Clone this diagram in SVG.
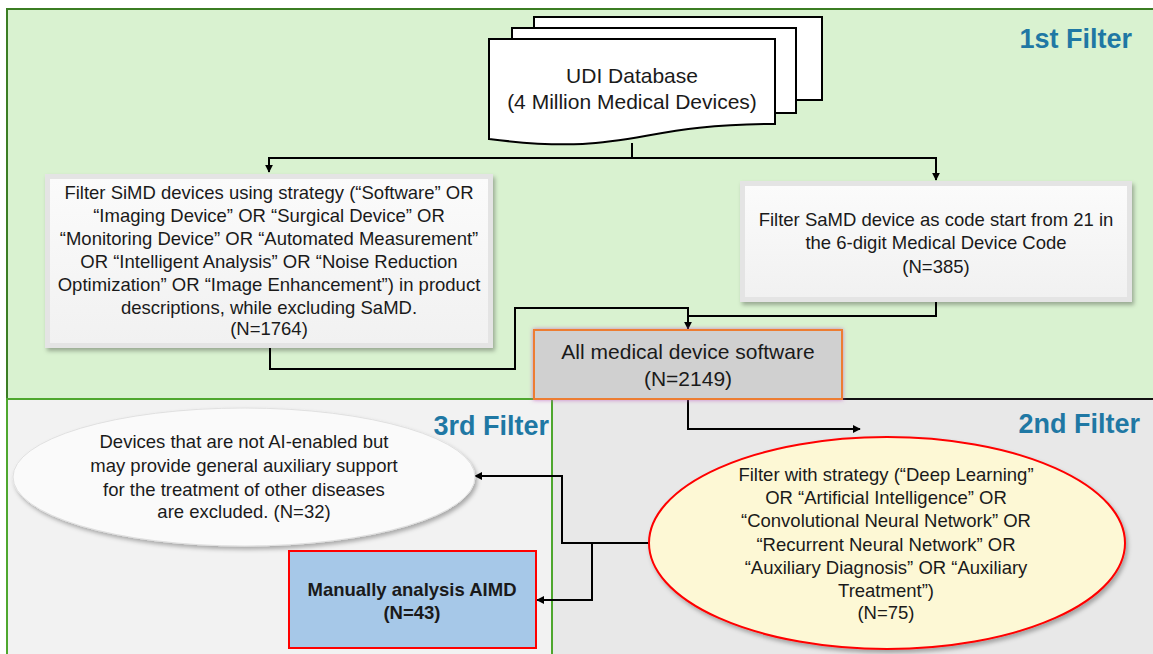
<svg xmlns="http://www.w3.org/2000/svg" width="1153" height="654" viewBox="0 0 1153 654">
<defs>
<style>
.t{font-family:"Liberation Sans",Arial,sans-serif;font-size:18.5px;fill:#1a1a1a;text-anchor:middle}
.l{font-size:21px}
.b{font-weight:bold}
.h{font-family:"Liberation Sans",Arial,sans-serif;font-size:27px;font-weight:bold;fill:#1f78a4;text-anchor:end}
.c{fill:none;stroke:#000;stroke-width:2}
.doc{fill:#fff;stroke:#000;stroke-width:2}
</style>
<marker id="ah" viewBox="0 0 10 10" refX="9" refY="5" markerWidth="8" markerHeight="8" markerUnits="userSpaceOnUse" orient="auto">
<path d="M0,0 L10,5 L0,10 z" fill="#000"/>
</marker>
<filter id="sh" x="-10%" y="-10%" width="120%" height="130%">
<feDropShadow dx="2" dy="3" stdDeviation="2" flood-color="#000" flood-opacity="0.3"/>
</filter>
<filter id="glow" x="-10%" y="-20%" width="120%" height="140%">
<feDropShadow dx="0" dy="0" stdDeviation="2" flood-color="#c060c0" flood-opacity="0.8"/>
</filter>
<linearGradient id="bev" x1="0" y1="0" x2="0" y2="1">
<stop offset="0" stop-color="#fbfbfb"/>
<stop offset="1" stop-color="#f1f1f1"/>
</linearGradient>
</defs>

<g id="panels">
<rect x="7" y="9" width="1150" height="390" fill="#d9f2d0" stroke="#3b7d23" stroke-width="2"/>
<rect x="7" y="399" width="545" height="260" fill="#f2f2f2" stroke="#4ea72e" stroke-width="2"/>
<rect x="552" y="399" width="605" height="260" fill="#e8e8e8"/>
<line x1="552" y1="399" x2="552" y2="654" stroke="#4ea72e" stroke-width="2"/>
<line x1="842" y1="399" x2="1153" y2="399" stroke="#111" stroke-width="2"/>
<text class="h" x="1132" y="48">1st Filter</text>
<text class="h" x="1140" y="433">2nd Filter</text>
<text class="h" x="549" y="435">3rd Filter</text>
</g>

<g id="udi">
<rect class="doc" x="534" y="17" width="288" height="83"/>
<rect class="doc" x="512" y="28" width="284" height="85"/>
<path class="doc" d="M489,39 H775 V124 C632,124 632,157 489,139 Z"/>
<text class="t l" x="632" y="83">UDI Database</text>
<text class="t l" x="632" y="109">(4 Million Medical Devices)</text>
</g>

<g id="connectors">
<path class="c" d="M632,143 V158 H269 V172" marker-end="url(#ah)"/>
<path class="c" d="M632,158 H936 V180" marker-end="url(#ah)"/>
<path class="c" d="M270,348 V369 H515 V308 H688 V329" marker-end="url(#ah)"/>
<path class="c" d="M936,302 V316 H688"/>
<path class="c" d="M688,399 V429 H860" marker-end="url(#ah)"/>
<path class="c" d="M650,543 H562 V476 H475" marker-end="url(#ah)"/>
<path class="c" d="M592,543 V600 H537" marker-end="url(#ah)"/>
</g>

<g id="simd">
<rect x="45" y="174" width="448" height="174" fill="#e4e4e4" filter="url(#sh)"/>
<rect x="50" y="179" width="438" height="164" fill="url(#bev)"/>
<text class="t" x="269" y="199">Filter SiMD devices using strategy (“Software” OR</text>
<text class="t" x="269" y="222">“Imaging Device” OR “Surgical Device” OR</text>
<text class="t" x="269" y="245">“Monitoring Device” OR “Automated Measurement”</text>
<text class="t" x="269" y="268">OR “Intelligent Analysis” OR “Noise Reduction</text>
<text class="t" x="269" y="291">Optimization” OR “Image Enhancement”) in product</text>
<text class="t" x="269" y="314">descriptions, while excluding SaMD.</text>
<text class="t" x="269" y="335">(N=1764)</text>
</g>

<g id="samd">
<rect x="740" y="181" width="392" height="121" fill="#e4e4e4" filter="url(#sh)"/>
<rect x="745" y="186" width="382" height="111" fill="url(#bev)"/>
<text class="t" x="936" y="226">Filter SaMD device as code start from 21 in</text>
<text class="t" x="936" y="249">the 6-digit Medical Device Code</text>
<text class="t" x="936" y="273">(N=385)</text>
</g>

<g id="allsoftware">
<rect x="534" y="330" width="308" height="69" fill="#d0d0d0" stroke="#ed7d31" stroke-width="2" filter="url(#glow)"/>
<text class="t l" x="688" y="359">All medical device software</text>
<text class="t l" x="688" y="386">(N=2149)</text>
</g>

<g id="excluded">
<ellipse cx="244" cy="477" rx="231" ry="69" fill="#fafafa" stroke="#e0e0e0" stroke-width="1" filter="url(#sh)"/>
<text class="t" x="244" y="448">Devices that are not AI-enabled but</text>
<text class="t" x="244" y="472">may provide general auxiliary support</text>
<text class="t" x="244" y="496">for the treatment of other diseases</text>
<text class="t" x="244" y="518">are excluded. (N=32)</text>
</g>

<g id="aifilter">
<ellipse cx="887" cy="543" rx="238" ry="106" fill="#fdf8d5" stroke="#ff0000" stroke-width="2" filter="url(#sh)"/>
<text class="t" x="886" y="481">Filter with strategy (“Deep Learning”</text>
<text class="t" x="886" y="504">OR “Artificial Intelligence” OR</text>
<text class="t" x="886" y="527">“Convolutional Neural Network” OR</text>
<text class="t" x="886" y="551">“Recurrent Neural Network” OR</text>
<text class="t" x="886" y="574">“Auxiliary Diagnosis” OR “Auxiliary</text>
<text class="t" x="886" y="597">Treatment”)</text>
<text class="t" x="886" y="619">(N=75)</text>
</g>

<g id="aimd">
<rect x="289" y="551" width="247" height="97" fill="#a6c8e8" stroke="#ff0000" stroke-width="2"/>
<text class="t b" x="412" y="596">Manually analysis AIMD</text>
<text class="t b" x="412" y="619">(N=43)</text>
</g>
</svg>
